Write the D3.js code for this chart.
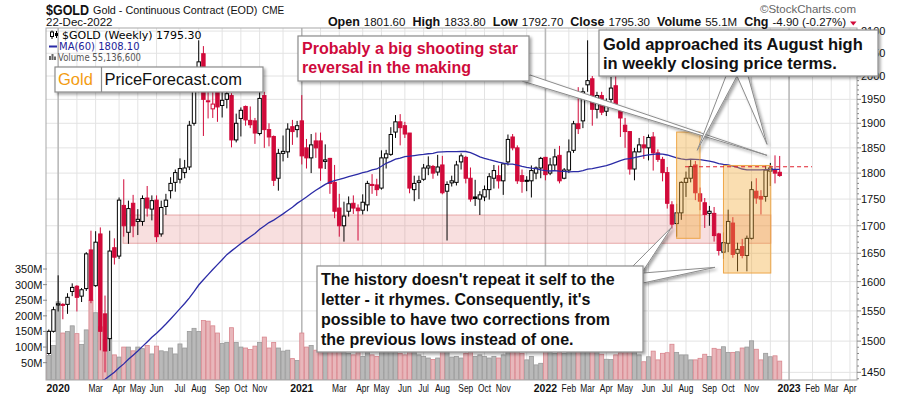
<!DOCTYPE html>
<html>
<head>
<meta charset="utf-8">
<script src="https://cdn.jsdelivr.net/npm/d3@7"></script>
<style>
  body { margin: 0; background: #fff; }
  svg { display: block; font-family: "Liberation Sans", Arial, sans-serif; }
</style>
</head>
<body>
<svg id="chart" width="900" height="396"></svg>
<script>
// weekly bars, first one is the week of 16-Dec-2019
const firstMonday = new Date(2019, 11, 16);

const opens = [
  1478,1480,1516,1560,1561,1561,1583,1592,1575,1588,
  1656,1593,1685,1545,1504,1660,1645,1738,1688,1742,
  1708,1708,1752,1731,1748,1685,1736,1766,1782,1788,
  1801,1812,1900,1976,2049,1945,1930,1966,1937,1950,
  1958,1866,1910,1935,1906,1905,1879,1958,1887,1873,
  1790,1839,1842,1893,1887,1905,1850,1830,1864,1864,
  1823,1829,1782,1733,1700,1727,1742,1733,1729,1739,
  1778,1777,1771,1830,1837,1882,1903,1895,1880,1768,
  1782,1788,1810,1813,1802,1816,1765,1781,1782,1822,
  1831,1790,1754,1750,1754,1768,1790,1795,1785,1822,
  1872,1850,1795,1786,1785,1800,1810,1831,1800,1816,
  1835,1790,1806,1845,1899,1905,1981,1994,1929,1958,
  1925,1950,1979,1926,1896,1883,1808,1842,1856,1850,
  1872,1840,1827,1801,1739,1704,1724,1782,1790,1816,
  1760,1743,1723,1723,1685,1652,1668,1705,1650,1662,
  1646,1677,1765,1755,1755,1804,1806,1801.6
];
const highs = [
  1486,1519,1557,1611,1563,1580,1597,1594,1589,1652,
  1691,1690,1697,1576,1691,1677,1753,1788,1747,1758,
  1731,1757,1775,1757,1757,1747,1760,1792,1807,1829,
  1826,1905,1986,2079,2066,2015,1981,1992,1973,1985,
  1963,1920,1933,1937,1935,1911,1966,1966,1900,1875,
  1848,1875,1900,1907,1905,1959,1868,1878,1881,1881,
  1857,1830,1816,1760,1745,1755,1757,1740,1759,1785,
  1798,1789,1845,1846,1892,1917,1919,1903,1880,1795,
  1795,1818,1833,1816,1836,1834,1784,1795,1824,1839,
  1834,1811,1787,1765,1776,1800,1816,1815,1820,1877,
  1878,1855,1807,1794,1815,1813,1832,1832,1830,1848,
  1854,1810,1867,1905,1976,1975,2079,2000,1966,1966,
  1952,1998,2002,1936,1911,1884,1850,1870,1874,1877,
  1882,1847,1832,1812,1746,1741,1784,1803,1826,1824,
  1772,1752,1737,1735,1687,1688,1730,1716,1669,1676,
  1682,1784,1790,1767,1815,1820,1835,1833.8
];
const lows = [
  1474,1478,1514,1549,1536,1545,1575,1549,1565,1584,
  1563,1591,1485,1450,1484,1630,1640,1680,1667,1679,
  1683,1700,1717,1710,1670,1680,1720,1751,1764,1780,
  1790,1806,1895,1965,1874,1910,1911,1903,1912,1931,
  1851,1861,1873,1895,1890,1858,1875,1850,1853,1775,
  1766,1823,1830,1856,1871,1817,1809,1800,1830,1785,
  1808,1760,1714,1680,1671,1717,1722,1673,1721,1727,
  1760,1756,1768,1809,1834,1870,1855,1870,1761,1746,
  1750,1785,1796,1789,1795,1759,1673,1774,1776,1807,
  1780,1745,1737,1720,1746,1749,1770,1770,1758,1815,
  1845,1779,1762,1765,1753,1788,1790,1786,1796,1805,
  1780,1788,1800,1840,1878,1890,1966,1895,1910,1917,
  1915,1944,1932,1872,1850,1797,1786,1841,1828,1825,
  1805,1822,1784,1732,1695,1680,1711,1754,1782,1748,
  1729,1696,1700,1671,1646,1640,1652,1642,1618,1641,
  1618,1675,1741,1721,1745,1775,1780,1792.7
];
const closes = [
  1480,1516,1552,1562,1560,1573,1590,1573,1586,1649,
  1568,1670,1516,1484,1654,1643,1748,1700,1732,1700,
  1712,1751,1733,1747,1680,1734,1748,1780,1801,1809,
  1810,1896,1975,2031,1950,1947,1940,1934,1948,1962,
  1866,1900,1927,1907,1897,1880,1952,1887,1872,1786,
  1839,1843,1888,1883,1895,1834,1830,1856,1850,1810,
  1826,1780,1727,1700,1718,1741,1733,1728,1744,1780,
  1777,1768,1830,1838,1877,1903,1891,1878,1771,1780,
  1785,1810,1814,1800,1812,1762,1778,1785,1816,1834,
  1790,1750,1751,1758,1768,1793,1805,1785,1818,1867,
  1850,1785,1784,1785,1805,1810,1829,1797,1816,1832,
  1785,1806,1842,1899,1889,1966,1990,1929,1958,1923,
  1945,1974,1934,1911,1883,1808,1842,1856,1850,1871,
  1840,1827,1801,1742,1703,1724,1782,1790,1813,1762,
  1746,1721,1727,1682,1655,1669,1708,1648,1657,1646,
  1677,1768,1752,1750,1806,1810,1800,1795.3
];
// millions
const volumes = [
  70,73,105,245,145,150,168,143,108,155,
  250,210,165,125,130,75,68,100,100,88,
  100,95,105,78,103,88,85,97,78,110,
  97,150,160,150,185,183,168,145,112,115,
  162,115,100,97,92,103,115,132,97,115,
  97,87,90,63,57,145,100,105,90,120,
  90,110,130,115,100,80,75,85,70,90,
  75,70,95,85,90,85,80,75,120,85,
  75,70,65,60,65,90,100,68,70,65,
  80,85,70,75,70,65,70,65,75,90,
  85,100,80,59,70,43,48,95,85,80,
  110,80,95,110,120,110,140,115,90,77,
  61,60,75,82,90,110,95,75,53,69,
  87,59,80,82,109,83,75,75,59,59,
  64,77,70,96,93,101,83,83,85,97,
  100,120,93,59,80,69,72,55
];
// 59 weekly closes before the first bar, only for the MA(60)
const priorCloses = [
  1233,1210,1223,1223,1226,1248,1241,1258,1283,1287,
  1289,1282,1303,1318,1318,1322,1332,1299,1298,1302,
  1313,1298,1295,1290,1276,1288,1281,1287,1277,1289,
  1311,1346,1344,1405,1413,1400,1415,1427,1419,1457,
  1509,1523,1537,1529,1516,1499,1515,1497,1512,1494,
  1494,1505,1515,1462,1468,1463,1465,1465,1481
];
const priceTicks = [1450,1500,1550,1600,1650,1700,1750,1800,1850,1900,1950,2000,2050,2100];
const volumeTicks = [50,100,150,200,250,300,350];

const headerLeft = ['$GOLD', 'Gold - Continuous Contract (EOD)', 'CME', '22-Dec-2022'];
const headerRight = [['Open','1801.60'],['High','1833.80'],['Low','1792.70'],['Close','1795.30'],['Volume','55.1M'],['Chg','-4.90 (-0.27%)']];
const legendLines = ['$GOLD (Weekly) 1795.30', 'MA(60) 1808.10', 'Volume 55,136,600'];

// shaded zones: bar index range and price range
const supportBand = {from: 16.85, to: 155.1, lo: 1668, hi: 1720};
const orangeBoxes = [
  {from: 135, to: 140, lo: 1677, hi: 1882},
  {from: 145, to: 155.1, lo: 1615, hi: 1815}
];
const resistance = {from: 136.8, to: 163.9, price: 1812.5};

const svg = d3.select('#chart');
const L = 46, R = 857, T = 28, B = 380;
const RED = '#d10a3a';

const x = d3.scaleLinear().domain([0, 157]).range([44.1, 779.7]);
const y = d3.scaleLog().domain([1438, 2107]).range([B, T]);
const yv = d3.scaleLinear().domain([0, 350]).range([378.3, 269]);

const nWeeks = 174;
const weeks = d3.range(nWeeks).map(i => d3.timeDay.offset(firstMonday, 7 * i));

const defs = svg.append('defs');
defs.append('clipPath').attr('id', 'plotClip')
  .append('rect').attr('x', L).attr('y', T).attr('width', R - L).attr('height', B - T);
const sh = defs.append('filter').attr('id', 'shadow')
  .attr('x', '-20%').attr('y', '-20%').attr('width', '150%').attr('height', '160%');
sh.append('feDropShadow').attr('dx', 2).attr('dy', 2).attr('stdDeviation', 1.4)
  .attr('flood-color', '#000').attr('flood-opacity', 0.35);

svg.append('rect').attr('width', 900).attr('height', 396).attr('fill', '#fff');

// ---------- grid ----------
const grid = svg.append('g');
priceTicks.forEach(p => {
  grid.append('line').attr('x1', L).attr('x2', R).attr('y1', y(p)).attr('y2', y(p))
    .attr('stroke', '#e3e3e3').attr('stroke-width', 1);
});
const monthStarts = [];
for (let i = 1; i < nWeeks; i++) {
  if (weeks[i].getMonth() !== weeks[i - 1].getMonth()) monthStarts.push(i);
}
monthStarts.forEach(i => {
  const isYear = weeks[i].getMonth() === 0;
  grid.append('line').attr('x1', x(i)).attr('x2', x(i)).attr('y1', T).attr('y2', B)
    .attr('stroke', isYear ? '#b9b9b9' : '#e3e3e3').attr('stroke-width', isYear ? 1.6 : 1);
});

const plot = svg.append('g').attr('clip-path', 'url(#plotClip)');

// support band
plot.append('rect')
  .attr('x', x(supportBand.from)).attr('width', x(supportBand.to) - x(supportBand.from))
  .attr('y', y(supportBand.hi)).attr('height', y(supportBand.lo) - y(supportBand.hi))
  .attr('fill', 'rgba(225,120,120,0.24)').attr('stroke', 'rgba(215,110,110,0.55)');

// ---------- volume ----------
const step = x(1) - x(0);
const isUp = (i) => closes[i] >= (i === 0 ? priorCloses[priorCloses.length - 1] : closes[i - 1]);
plot.append('g').selectAll('rect').data(volumes).join('rect')
  .attr('x', (d, i) => x(i) - step / 2 + 0.3)
  .attr('width', step - 0.6)
  .attr('y', d => yv(d))
  .attr('height', d => B - yv(d))
  .attr('fill', (d, i) => isUp(i) ? '#b9b9b9' : '#e8b7bb')
  .attr('stroke', (d, i) => isUp(i) ? '#9a9a9a' : '#d9868e')
  .attr('stroke-width', 0.8);

// ---------- candles ----------
const bw = 3.4;
const candles = plot.append('g').selectAll('g').data(closes).join('g');
candles.append('line')
  .attr('x1', (d, i) => x(i)).attr('x2', (d, i) => x(i))
  .attr('y1', (d, i) => y(highs[i])).attr('y2', (d, i) => y(lows[i]))
  .attr('stroke', (d, i) => isUp(i) ? '#000' : RED).attr('stroke-width', 1);
candles.append('rect')
  .attr('x', (d, i) => x(i) - bw / 2)
  .attr('width', bw)
  .attr('y', (d, i) => y(Math.max(opens[i], closes[i])))
  .attr('height', (d, i) => Math.max(1, Math.abs(y(opens[i]) - y(closes[i]))))
  .attr('fill', (d, i) => closes[i] > opens[i] ? '#fff' : (isUp(i) ? '#000' : RED))
  .attr('stroke', (d, i) => isUp(i) ? '#000' : RED)
  .attr('stroke-width', 1);

// ---------- MA(60) ----------
const allCloses = priorCloses.concat(closes);
const ma = closes.map((c, i) => d3.mean(allCloses.slice(i, i + 60)));
plot.append('path').datum(ma)
  .attr('d', d3.line().x((d, i) => x(i)).y(d => y(d)))
  .attr('fill', 'none').attr('stroke', '#2b2ba6').attr('stroke-width', 1.3);

// orange zones drawn over the candles
orangeBoxes.forEach(b => {
  plot.append('rect')
    .attr('x', x(b.from)).attr('width', x(b.to) - x(b.from))
    .attr('y', y(b.hi)).attr('height', y(b.lo) - y(b.hi))
    .attr('fill', 'rgba(242,168,50,0.38)').attr('stroke', 'rgba(236,160,60,0.9)');
});
plot.append('line')
  .attr('x1', x(resistance.from)).attr('x2', x(resistance.to))
  .attr('y1', y(resistance.price)).attr('y2', y(resistance.price))
  .attr('stroke', '#e0202e').attr('stroke-width', 1.2).attr('stroke-dasharray', '4,3');

// frame
svg.append('rect').attr('x', L).attr('y', T).attr('width', R - L).attr('height', B - T)
  .attr('fill', 'none').attr('stroke', '#a8a8a8');

// ---------- axes ----------
const axes = svg.append('g').attr('font-size', 11).attr('fill', '#111');
d3.range(1440, 2110, 10).forEach(p => {
  const major = p % 50 === 0;
  axes.append('line').attr('x1', R).attr('x2', R + (major ? 4 : 2))
    .attr('y1', y(p)).attr('y2', y(p)).attr('stroke', '#888');
});
priceTicks.forEach(p => {
  axes.append('text').attr('x', 861).attr('y', y(p) + 4).text(p);
});
volumeTicks.forEach(v => {
  axes.append('line').attr('x1', 43).attr('x2', 47).attr('y1', yv(v)).attr('y2', yv(v)).attr('stroke', '#888');
  axes.append('text').attr('x', 42.5).attr('y', yv(v) + 4).attr('text-anchor', 'end').text(v + 'M');
});

const placed = [];
function xLabel(i, txt, bold) {
  const t = axes.append('text').attr('x', x(i)).attr('y', 391.5).attr('text-anchor', 'middle')
    .attr('font-weight', bold ? 'bold' : 'normal').attr('font-size', bold ? 11 : 10.5).text(txt);
  const w = t.node().getComputedTextLength() * (bold ? 0.95 : 0.8);
  t.attr('textLength', w).attr('lengthAdjust', 'spacingAndGlyphs');
  const a = x(i) - w / 2, b = x(i) + w / 2;
  if (placed.some(p => a < p[1] + 2 && b > p[0] - 2)) { t.remove(); return; }
  placed.push([a, b]);
}
monthStarts.filter(i => weeks[i].getMonth() === 0)
  .forEach(i => xLabel(i, weeks[i].getFullYear(), true));
monthStarts.filter(i => weeks[i].getMonth() !== 0)
  .forEach(i => xLabel(i, d3.timeFormat('%b')(weeks[i]), false));

// ---------- header ----------
const head = svg.append('g').attr('fill', '#111');
head.append('text').attr('x', 46).attr('y', 14.5).attr('font-size', 14).attr('font-weight', 'bold')
  .attr('textLength', 43).attr('lengthAdjust', 'spacingAndGlyphs').text(headerLeft[0]);
head.append('text').attr('x', 93).attr('y', 14).attr('font-size', 10.8).text(headerLeft[1]);
head.append('text').attr('x', 262).attr('y', 14).attr('font-size', 10).text(headerLeft[2]);
head.append('text').attr('x', 46).attr('y', 26).attr('font-size', 11.5).text(headerLeft[3]);
const hr = head.append('text').attr('x', 846).attr('y', 26).attr('text-anchor', 'end');
headerRight.forEach(([k, v], j) => {
  hr.append('tspan').attr('font-weight', 'bold').attr('font-size', 12.5).attr('dx', j ? 7 : 0).text(k);
  hr.append('tspan').attr('font-size', 11.5).attr('dx', 4).text(v);
});
head.append('path').attr('d', 'M850,21.5 L856.5,21.5 L853.25,25.5 Z').attr('fill', RED);
head.append('text').attr('x', 856).attr('y', 13).attr('text-anchor', 'end').attr('font-size', 11.5)
  .attr('fill', '#666').text('\u00A9StockCharts.com');

// ---------- legend ----------
const leg = svg.append('g').attr('font-family', '"DejaVu Sans", Verdana, sans-serif');
leg.append('line').attr('x1', 52).attr('x2', 52).attr('y1', 30.5).attr('y2', 39).attr('stroke', '#000');
leg.append('rect').attr('x', 50.5).attr('y', 32).attr('width', 3).attr('height', 4.5).attr('fill', '#fff').attr('stroke', '#000');
leg.append('line').attr('x1', 56.5).attr('x2', 56.5).attr('y1', 31).attr('y2', 38).attr('stroke', '#000');
leg.append('rect').attr('x', 55).attr('y', 33).attr('width', 3).attr('height', 3).attr('fill', '#000');
leg.append('text').attr('x', 62).attr('y', 39).attr('font-size', 11).attr('fill', '#000').text(legendLines[0]);
leg.append('line').attr('x1', 49).attr('x2', 57).attr('y1', 46.5).attr('y2', 46.5).attr('stroke', '#2b2ba6').attr('stroke-width', 2);
leg.append('text').attr('x', 59).attr('y', 50).attr('font-size', 10).attr('fill', '#1d1d99').text(legendLines[1]);
[[49, 4], [51.5, 6], [54, 3.5]].forEach(([bx, bh]) => {
  leg.append('rect').attr('x', bx).attr('y', 60 - bh).attr('width', 2).attr('height', bh).attr('fill', '#666');
});
leg.append('text').attr('x', 58).attr('y', 60.5).attr('font-size', 10).attr('fill', '#555')
  .attr('textLength', 83).attr('lengthAdjust', 'spacingAndGlyphs').text(legendLines[2]);

// ---------- callouts ----------
const notes = svg.append('g');
function pointer(b1, b2, tip) {
  notes.append('polygon')
    .attr('points', [b1, [x(tip.i), y(tip.p)], b2].map(p => p.join(',')).join(' '))
    .attr('fill', '#fff').attr('stroke', '#8c8c8c').attr('stroke-width', 1)
    .attr('filter', 'url(#shadow)');
}
function box(bx, by, bw2, bh) {
  notes.append('rect').attr('x', bx).attr('y', by).attr('width', bw2).attr('height', bh)
    .attr('fill', '#fff').attr('stroke', '#8c8c8c').attr('stroke-width', 1.2)
    .attr('filter', 'url(#shadow)');
}
function lines(tx, baselines, txts, size, color) {
  txts.forEach((t, k) => {
    notes.append('text').attr('x', tx).attr('y', baselines[k]).attr('font-size', size)
      .attr('font-weight', 'bold').attr('fill', color).text(t);
  });
}

// shooting star note
pointer([530, 75], [522, 81], {i: 154.3, p: 1835});
// August high note
pointer([726, 76], [737, 76], {i: 139.4, p: 1845});
pointer([737, 76], [748, 76], {i: 154.3, p: 1857});
// history note
pointer([633, 266], [643, 271], {i: 134.0, p: 1698});
pointer([643, 273], [643, 283], {i: 143.2, p: 1625});

box(298, 36, 231, 45);
lines(302, [53.5, 73], ['Probably a big shooting star', 'reversal in the making'], 16, '#cf0a3c');

box(599, 30, 279, 46);
lines(603, [49.5, 69], ['Gold approached its August high', 'in weekly closing price terms.'], 16.5, '#111');

box(317, 266, 326, 86);
lines(321, [285, 305, 325, 345], [
  'The history doesn\'t repeat it self to the',
  'letter - it rhymes. Consequently, it\'s',
  'possible to have two corrections from',
  'the previous lows instead of one.'
], 16, '#111');

box(55, 67, 208, 25);
notes.append('line').attr('x1', 101.5).attr('x2', 101.5).attr('y1', 67).attr('y2', 92).attr('stroke', '#8c8c8c').attr('stroke-width', 1.2);
notes.append('text').attr('x', 58).attr('y', 84.5).attr('font-size', 16.5).attr('fill', '#f39c12').text('Gold');
notes.append('text').attr('x', 104.5).attr('y', 84.5).attr('font-size', 16.5).attr('fill', '#111').text('PriceForecast.com');
</script>
</body>
</html>
